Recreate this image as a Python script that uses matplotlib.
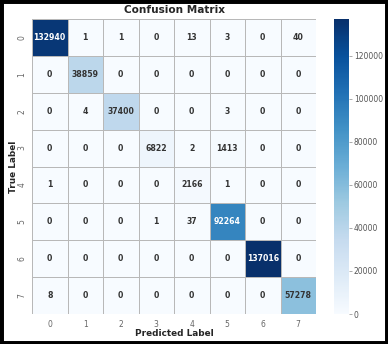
import numpy as np
import matplotlib
matplotlib.use("Agg")
import matplotlib.pyplot as plt
import seaborn as sns
from matplotlib.patches import Rectangle

labels = ["0", "1", "2", "3", "4", "5", "6", "7"]
row0 = [132940, 1, 1, 0, 13, 3, 0, 40]
row1 = [0, 38859, 0, 0, 0, 0, 0, 0]
row2 = [0, 4, 37400, 0, 0, 3, 0, 0]
row3 = [0, 0, 0, 6822, 2, 1413, 0, 0]
row4 = [1, 0, 0, 0, 2166, 1, 0, 0]
row5 = [0, 0, 0, 1, 37, 92264, 0, 0]
row6 = [0, 0, 0, 0, 0, 0, 137016, 0]
row7 = [8, 0, 0, 0, 0, 0, 0, 57278]
cm = np.array([row0, row1, row2, row3, row4, row5, row6, row7])

sns.set_style("white")
plt.rcParams['font.family'] = ['DejaVu Sans']

fig = plt.figure(figsize=(3.88, 3.44), dpi=100)
ax = fig.add_axes([32/388, 1-314/344, 284/388, 295/344])
cax = fig.add_axes([334/388, 1-314/344, 15/388, 295/344])

sns.heatmap(cm, annot=True, fmt="d", cmap="Blues", ax=ax, cbar_ax=cax,
            linewidths=0.6, linecolor="#b8b8b8",
            annot_kws={"fontsize": 5.6, "fontweight": "bold", "color": "#333333"},
            xticklabels=labels, yticklabels=labels)

# light text on dark cells
vmax = cm.max()
for t, v in zip(ax.texts, cm.flatten()):
    if v > 0.6 * vmax:
        t.set_color("white")

ax.set_title("Confusion Matrix", fontsize=7.6, fontweight="bold", color="#262626", pad=4)
ax.set_xlabel("Predicted Label", fontsize=6.4, fontweight="bold", color="#262626")
ax.set_ylabel("True Label", fontsize=6.4, fontweight="bold", color="#262626")
ax.xaxis.set_label_coords(0.5, -0.051)
ax.yaxis.set_label_coords(-0.049, 0.5)
ax.tick_params(axis="both", labelsize=5.5, colors="#888888", length=2.5, width=0.5, pad=1.5)
ax.tick_params(axis="both", labelcolor="#666666")
plt.setp(ax.get_yticklabels(), rotation=90, va="center")
plt.setp(ax.get_xticklabels(), rotation=0)

cax.tick_params(labelsize=5.5, colors="#888888", length=2, width=0.5, pad=1.5, labelcolor="#555555")
cax.set_yticks([0, 20000, 40000, 60000, 80000, 100000, 120000])
for s in cax.spines.values():
    s.set_visible(False)

fig.patches.append(Rectangle((0, 0), 1, 1, transform=fig.transFigure, fill=False,
                             edgecolor="black", linewidth=5, zorder=10))

fig.savefig("out.png", dpi=100)
